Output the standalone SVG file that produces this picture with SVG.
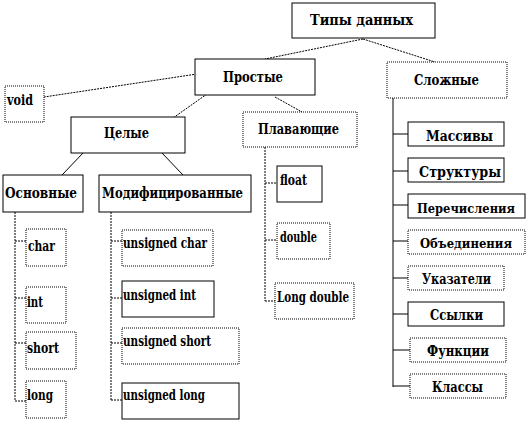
<svg xmlns="http://www.w3.org/2000/svg" width="527" height="423" viewBox="0 0 527 423">
<style>
.b{fill:#fff;stroke:#000;stroke-width:1}
.d{fill:#fff;stroke:#000;stroke-width:1;stroke-dasharray:1 1}
text{font-family:"DejaVu Serif","Liberation Serif",serif;font-weight:bold;font-size:14px;fill:#000}
.sm{font-size:12px}
.l{fill:none;stroke:#000;stroke-width:1;stroke-dasharray:2 1}
.ls{fill:none;stroke:#000;stroke-width:1}
</style>
<g id="connectors">
<path class="l" d="M363,39 L265,59"/>
<path class="l" d="M363,39 L435,62"/>
<path class="l" d="M197,74 L44,97"/>
<path class="l" d="M207,94 L173,118"/>
<path class="l" d="M275,97 L302,112"/>
<path class="ls" d="M83,153 L62,175"/>
<path class="ls" d="M162,153 L183,175"/>
<path class="l" d="M15,212 V401 M15,241 H26 M15,298 H26 M15,343 H26 M15,401 H26"/>
<path class="l" d="M111,212 V400 M111,241 H122 M111,298 H122 M111,343 H122 M111,400 H122"/>
<path class="l" d="M265,147 V301 M265,183 H277 M265,240 H277 M265,301 H275"/>
<path class="ls" d="M393,98 V387 M393,134 H408 M393,171 H408 M393,205 H408 M393,241 H408 M393,278 H408 M393,314 H408 M393,350 H410 M393,386 H410"/>
</g>
<g id="n-types"><rect class="b" x="292" y="3" width="143" height="35"/><text x="310" y="25" textLength="103" lengthAdjust="spacingAndGlyphs">Типы данных</text></g>
<g id="n-simple"><rect class="b" x="195" y="59" width="120" height="36"/><text x="223" y="82" textLength="60" lengthAdjust="spacingAndGlyphs">Простые</text></g>
<g id="n-complex"><rect class="d" x="387" y="62" width="120" height="36"/><text x="414" y="85" textLength="65" lengthAdjust="spacingAndGlyphs">Сложные</text></g>
<g id="n-void"><rect class="d" x="5" y="86" width="39" height="36"/><text x="7" y="105" textLength="26" lengthAdjust="spacingAndGlyphs">void</text></g>
<g id="n-int"><rect class="b" x="71" y="117" width="114" height="36"/><text x="104" y="138" textLength="45" lengthAdjust="spacingAndGlyphs">Целые</text></g>
<g id="n-float"><rect class="d" x="243" y="112" width="114" height="35"/><text x="258" y="134" textLength="81" lengthAdjust="spacingAndGlyphs">Плавающие</text></g>
<g id="n-basic"><rect class="b" x="3" y="175" width="80" height="37"/><text x="5" y="198" textLength="72" lengthAdjust="spacingAndGlyphs">Основные</text></g>
<g id="n-mod"><rect class="b" x="99" y="175" width="152" height="37"/><text x="102" y="198" textLength="141" lengthAdjust="spacingAndGlyphs">Модифицированные</text></g>
<g id="n-char"><rect class="d" x="26" y="229" width="40" height="37"/><text x="28" y="251" textLength="27" lengthAdjust="spacingAndGlyphs">char</text></g>
<g id="n-intt"><rect class="d" x="26" y="287" width="40" height="36"/><text x="27" y="307" textLength="16" lengthAdjust="spacingAndGlyphs">int</text></g>
<g id="n-short"><rect class="d" x="26" y="332" width="50" height="37"/><text x="27" y="353" textLength="32" lengthAdjust="spacingAndGlyphs">short</text></g>
<g id="n-long"><rect class="d" x="26" y="381" width="40" height="37"/><text x="27" y="400" textLength="26" lengthAdjust="spacingAndGlyphs">long</text></g>
<g id="n-uchar"><rect class="d" x="122" y="230" width="91" height="36"/><text x="123" y="248" textLength="84" lengthAdjust="spacingAndGlyphs">unsigned char</text></g>
<g id="n-uint"><rect class="b" x="122" y="281" width="92" height="36"/><text x="123" y="300" textLength="73" lengthAdjust="spacingAndGlyphs">unsigned int</text></g>
<g id="n-ushort"><rect class="d" x="122" y="328" width="117" height="36"/><text x="123" y="346" textLength="88" lengthAdjust="spacingAndGlyphs">unsigned short</text></g>
<g id="n-ulong"><rect class="b" x="122" y="383" width="117" height="36"/><text x="123" y="400" textLength="82" lengthAdjust="spacingAndGlyphs">unsigned long</text></g>
<g id="n-flt"><rect class="b" x="277" y="166" width="45" height="36"/><text x="280" y="185" textLength="27" lengthAdjust="spacingAndGlyphs">float</text></g>
<g id="n-dbl"><rect class="d" x="277" y="223" width="53" height="36"/><text x="280" y="242" textLength="37" lengthAdjust="spacingAndGlyphs">double</text></g>
<g id="n-ldbl"><rect class="d" x="275" y="283" width="79" height="36"/><text x="277" y="302" textLength="72" lengthAdjust="spacingAndGlyphs">Long double</text></g>
<g id="n-arr"><rect class="b" x="408" y="122" width="96" height="24"/><text x="426" y="141" textLength="67" lengthAdjust="spacingAndGlyphs">Массивы</text></g>
<g id="n-str"><rect class="b" x="408" y="158" width="96" height="24"/><text x="419" y="177" textLength="82" lengthAdjust="spacingAndGlyphs">Структуры</text></g>
<g id="n-enum"><rect class="b" x="408" y="194" width="117" height="24"/><text class="sm" x="417" y="213" textLength="98" lengthAdjust="spacingAndGlyphs">Перечисления</text></g>
<g id="n-union"><rect class="d" x="408" y="230" width="117" height="24"/><text class="sm" x="420" y="248" textLength="92" lengthAdjust="spacingAndGlyphs">Объединения</text></g>
<g id="n-ptr"><rect class="d" x="408" y="266" width="96" height="24"/><text x="422" y="284" textLength="69" lengthAdjust="spacingAndGlyphs">Указатели</text></g>
<g id="n-ref"><rect class="b" x="408" y="302" width="96" height="24"/><text x="430" y="320" textLength="53" lengthAdjust="spacingAndGlyphs">Ссылки</text></g>
<g id="n-func"><rect class="d" x="410" y="338" width="96" height="24"/><text x="427" y="356" textLength="62" lengthAdjust="spacingAndGlyphs">Функции</text></g>
<g id="n-cls"><rect class="d" x="410" y="374" width="96" height="24"/><text x="432" y="392" textLength="51" lengthAdjust="spacingAndGlyphs">Классы</text></g>
</svg>
